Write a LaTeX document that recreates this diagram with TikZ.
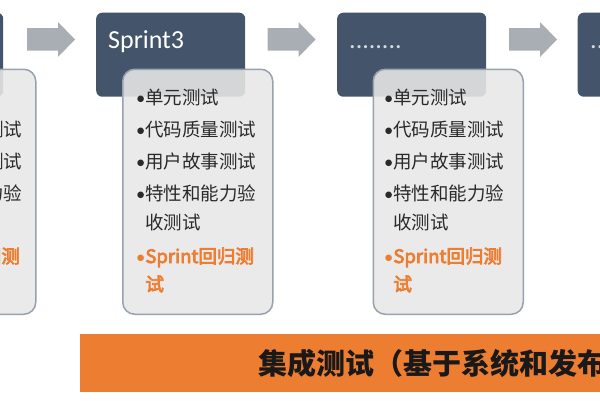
\documentclass[tikz,border=0pt]{standalone}
\usepackage{fontspec}
\setmainfont{Carlito}
\newfontfamily\cjk{Noto Sans CJK SC}
\newfontfamily\cjkhot{Noto Sans CJK SC}[FakeBold=4]
\definecolor{darkc}{HTML}{44546A}
\definecolor{lightc}{HTML}{E8E8E8}
\definecolor{borderc}{HTML}{98A1AE}
\definecolor{textc}{HTML}{2A2A2A}
\definecolor{orangec}{HTML}{ED7D31}
\definecolor{arrowc}{HTML}{A9ADB4}
\definecolor{dotc}{HTML}{D3DAE4}
\newcommand\bul{{\rmfamily\mdseries •}}
\tikzset{
  darkbox/.style={fill=darkc, draw=none, rounded corners=6bp, minimum width=149bp, minimum height=84bp, anchor=north west, inner sep=0pt},
  lightbox/.style={fill=lightc, fill opacity=0.88, draw=borderc, line width=1.5bp, rounded corners=12bp, minimum width=150bp, minimum height=245bp, anchor=north west, inner sep=0pt},
  title/.style={anchor=base west, inner sep=0pt, text=white, font=\fontsize{26bp}{30bp}\selectfont},
  dots/.style={title, text=dotc},
  item/.style={anchor=base west, inner sep=0pt, text=textc, font=\cjk\fontsize{18.5bp}{22bp}\selectfont},
  hot/.style={item, text=orangec, font=\cjkhot\fontsize{18.5bp}{22bp}\selectfont},
  blockarrow/.style={fill=arrowc, draw=none},
  bar/.style={fill=orangec, draw=none, minimum width=560bp, minimum height=58bp, anchor=north west, inner sep=0pt},
  bartext/.style={anchor=base west, inner sep=0pt, text=black!90, font=\cjk\bfseries\fontsize{29bp}{34bp}\selectfont}
}
\newcommand\sprintcol[4]{%
  \node[darkbox] (#1d) at (#2,12.5) {};
  \node[lightbox] (#1l) at (#3,68.5) {};
  \node[item] (#1a) at (#4,104.5) {\bul 单元测试};
  \node[item] (#1b) at (#4,136) {\bul 代码质量测试};
  \node[item] (#1c) at (#4,168) {\bul 用户故事测试};
  \node[item] (#1e) at (#4,200.5) {\bul 特性和能力验};
  \node[item] (#1f) at (#4,229) {\phantom{\bul}收测试};
  \node[hot] (#1g) at (#4,263) {\bul Sprint回归测};
  \node[hot] (#1h) at (#4,291) {\phantom{\bul}试};
}
\newcommand\arrowat[1]{%
  \fill[blockarrow] (#1,28) -- ({#1+31},28) -- ({#1+31},22) -- ({#1+48},39.5) -- ({#1+31},57) -- ({#1+31},50.5) -- (#1,50.5) -- cycle;
}
\begin{document}
\begin{tikzpicture}[x=1bp,y=-1bp]
\useasboundingbox (0,0) rectangle (600,400);
\clip (0,0) rectangle (600,400);
\fill[white] (0,0) rectangle (600,400);
% columns
\sprintcol{p}{-146}{-115}{-98}
\sprintcol{s}{96}{122}{136}
\node[title] (stitle) at (108,48.5) {Sprint3};
\sprintcol{m}{337}{372.5}{384}
\node[dots] (mtitle) at (349,48.5) {........};
\node[darkbox] (rd) at (577.5,12.5) {};
\node[dots] (rtitle) at (590,48.5) {........};
% arrows
\arrowat{27}
\arrowat{267.5}
\arrowat{509}
% bottom bar
\node[bar] (barbox) at (80,334) {};
\node[bartext] (bartxt) at (258,374) {集成测试（基于系统和发布};
\end{tikzpicture}
\end{document}
